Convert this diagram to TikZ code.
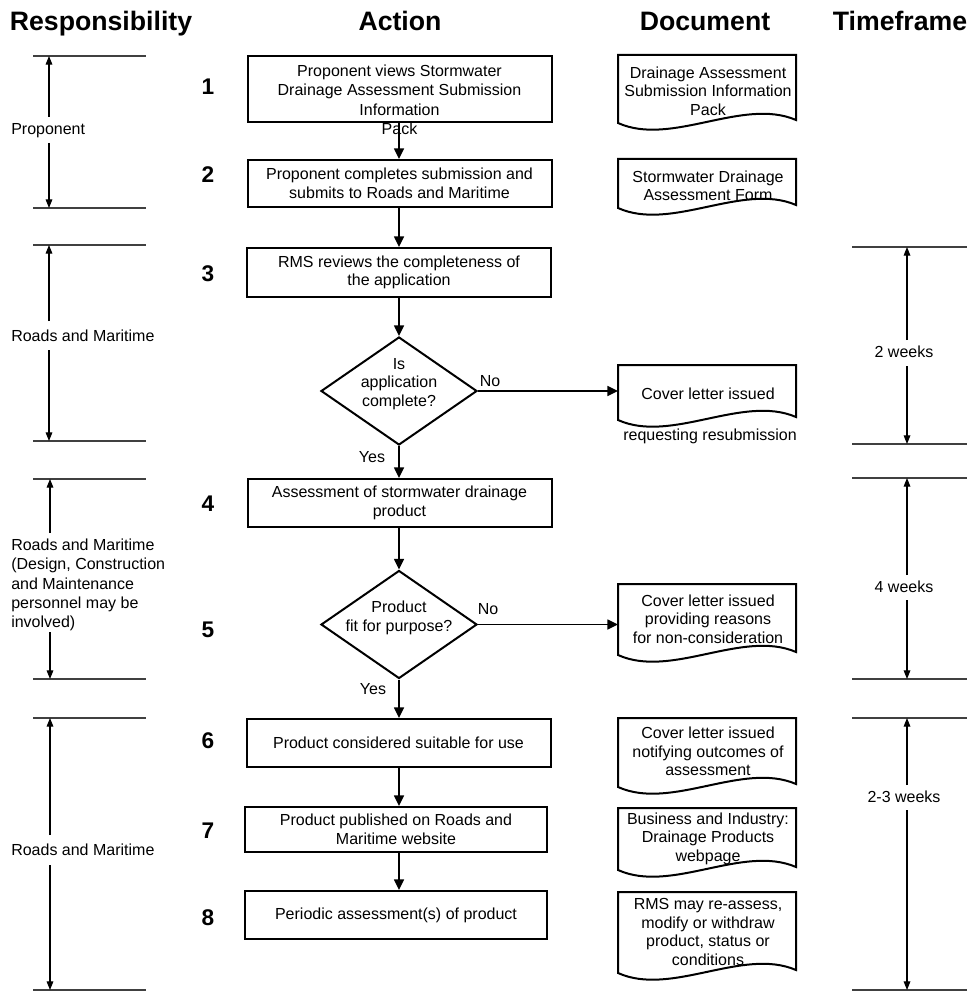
\documentclass[tikz,border=0pt]{standalone}
\usepackage{fontspec}
\setmainfont{Liberation Sans}
\usetikzlibrary{shapes.geometric,arrows.meta}
\newcommand\mkdoc[3]{%
  \draw[docline] (618,#3) -- (618,#2) -- (796,#2) -- (796,{#3-3})
    .. controls (742.6,{#3-26}) and (671.4,{#3+24}) .. (618,#3) -- cycle;
  \coordinate (#1) at (618,{(#2+#3)/2});}
\begin{document}
\begin{tikzpicture}[x=0.75pt,y=-0.75pt,
  txt/.style={font=\fontsize{12}{13.9}\selectfont, align=center, inner sep=0pt},
  ltxt/.style={font=\fontsize{12}{14.5}\selectfont, align=left, inner sep=0pt, anchor=west},
  hdr/.style={font=\fontsize{20}{24}\selectfont\bfseries, inner sep=0pt, anchor=base},
  num/.style={font=\fontsize{17}{20}\selectfont\bfseries, inner sep=0pt},
  box/.style={draw, line width=1.5pt, rectangle, inner sep=0pt, minimum width=228pt},
  dia/.style={draw, line width=1.5pt, diamond, inner sep=0pt, minimum width=117pt, minimum height=81pt},
  docline/.style={draw, line width=1.5pt, line join=miter},
  flow/.style={-{Triangle[length=8pt,width=7.5pt]}, line width=1.1pt},
  bar/.style={line width=0.8pt, draw=black!75},
  dim/.style={-{Triangle[length=6.5pt,width=5pt]}, line width=0.8pt}]
\useasboundingbox (0,0) rectangle (970,991);

% headers
\node[hdr] (h1) at (101,31) {Responsibility};
\node[hdr] (h2) at (400,31) {Action};
\node[hdr] (h3) at (705,31) {Document};
\node[hdr] (h4) at (900,31) {Timeframe};

% step numbers
\node[num] (n1) at (208,87) {1};
\node[num] (n2) at (208,175) {2};
\node[num] (n3) at (208,274) {3};
\node[num] (n4) at (208,504) {4};
\node[num] (n5) at (208,630) {5};
\node[num] (n6) at (208,741) {6};
\node[num] (n7) at (208,831) {7};
\node[num] (n8) at (208,918) {8};

% action boxes
\node[box, minimum height=49.5pt] (b1) at (399.5,89) {};
\node[txt] (b1t) at (399.5,100) {Proponent views Stormwater\\[0.7pt]Drainage Assessment Submission\\[0.7pt]Information\\[0.7pt]Pack};
\node[box, minimum height=35.25pt, txt] (b2) at (399.5,183.5) {Proponent completes submission and\\submits to Roads and Maritime};
\node[box, minimum height=36.75pt, txt] (b3) at (399,272.5) {RMS reviews the completeness of\\the application};
\node[dia] (d1) at (399,391) {};
\node[txt] (d1t) at (399,384) {Is\\application\\complete?};
\node[box, minimum height=36pt, txt] (b4) at (399.5,503) {Assessment of stormwater drainage\\product};
\node[dia] (d2) at (399,624.5) {};
\node[txt] (d2t) at (399,618) {Product\\fit for purpose?};
\node[box, minimum height=36pt, txt] (b6) at (398.5,743) {Product considered suitable for use};
\node[box, minimum height=33.75pt, minimum width=226.5pt, txt] (b7) at (396,829.5) {Product published on Roads and\\Maritime website};
\node[box, minimum height=36pt, minimum width=226.5pt, txt] (b8) at (396,915) {Periodic assessment(s) of product};

% documents
\mkdoc{doc1}{55}{123}
\node[txt] (doc1t) at (708,91) {Drainage Assessment\\Submission Information\\Pack};
\mkdoc{doc2}{159}{208}
\node[txt] (doc2t) at (708,186) {Stormwater Drainage\\Assessment Form};
\mkdoc{cov1}{365}{420}
\node[txt] (cov1t) at (708,394) {Cover letter issued};
\node[txt] (cov1u) at (710,436) {requesting resubmission};
\mkdoc{cov2}{584}{655}
\node[txt] (cov2t) at (708,619) {Cover letter issued\\providing reasons\\for non-consideration};
\mkdoc{doc6}{718}{787}
\node[txt] (doc6t) at (708,751.5) {Cover letter issued\\notifying outcomes of\\assessment};
\mkdoc{doc7}{808}{870}
\node[txt] (doc7t) at (708,838.5) {Business and Industry:\\Drainage Products\\webpage};
\mkdoc{doc8}{892}{973}
\node[txt] (doc8t) at (708,932) {RMS may re-assess,\\modify or withdraw\\product, status or\\conditions};

% flow connectors
\draw[flow] (b1.south -| d1) -- (b2.north -| d1);
\draw[flow] (b2.south -| d1) -- (b3.north -| d1);
\draw[flow] (b3.south -| d1) -- (d1.north);
\draw[flow] (d1.south) -- (b4.north -| d1);
\draw[flow] (b4.south -| d1) -- (d2.north);
\draw[flow] (d2.south) -- (b6.north -| d1);
\draw[flow] (b6.south -| d1) -- (b7.north -| d1);
\draw[flow] (b7.south -| d1) -- (b8.north -| d1);
\draw[flow] (d1.east) -- (d1.east -| cov1);
\draw[flow] (d2.east) -- (d2.east -| cov2);
\node[txt] (no1) at (490,381) {No};
\node[txt] (yes1) at (372,457) {Yes};
\node[txt] (no2) at (488,609) {No};
\node[txt] (yes2) at (373,689) {Yes};

% responsibility bars
\foreach \y in {56,208,245,441,479,679,718,990}{\draw[bar] (33,\y) -- (146,\y);}
\node[ltxt] (r1) at (11,131) {Proponent};
\coordinate (r1a) at (49,117); \coordinate (r1b) at (49,143);
\coordinate (r1t) at (49,56); \coordinate (r1d) at (49,208);
\draw[dim] (r1a) -- (r1t); \draw[dim] (r1b) -- (r1d);
\node[ltxt] (r2) at (11,336) {Roads and Maritime};
\coordinate (r2a) at (49,321); \coordinate (r2b) at (49,350);
\coordinate (r2t) at (49,245); \coordinate (r2d) at (49,441);
\draw[dim] (r2a) -- (r2t); \draw[dim] (r2b) -- (r2d);
\node[ltxt] (r3) at (11,585) {Roads and Maritime\\(Design, Construction\\and Maintenance\\personnel may be\\involved)};
\coordinate (r3a) at (50,533); \coordinate (r3b) at (50,632);
\coordinate (r3t) at (50,479); \coordinate (r3d) at (50,679);
\draw[dim] (r3a) -- (r3t); \draw[dim] (r3b) -- (r3d);
\node[ltxt] (r4) at (11,850) {Roads and Maritime};
\coordinate (r4a) at (50,835); \coordinate (r4b) at (50,865);
\coordinate (r4t) at (50,718); \coordinate (r4d) at (50,990);
\draw[dim] (r4a) -- (r4t); \draw[dim] (r4b) -- (r4d);

% timeframe bars
\foreach \y in {247,444,478,679,718,990}{\draw[bar] (852,\y) -- (967,\y);}
\node[txt] (w1) at (904,352) {2 weeks};
\coordinate (w1a) at (907,340); \coordinate (w1b) at (907,366);
\coordinate (w1t) at (907,247); \coordinate (w1d) at (907,444);
\draw[dim] (w1a) -- (w1t); \draw[dim] (w1b) -- (w1d);
\node[txt] (w2) at (904,587) {4 weeks};
\coordinate (w2a) at (907,575); \coordinate (w2b) at (907,600);
\coordinate (w2t) at (907,478); \coordinate (w2d) at (907,679);
\draw[dim] (w2a) -- (w2t); \draw[dim] (w2b) -- (w2d);
\node[txt] (w3) at (904,797) {2-3 weeks};
\coordinate (w3a) at (907,785); \coordinate (w3b) at (907,810);
\coordinate (w3t) at (907,718); \coordinate (w3d) at (907,990);
\draw[dim] (w3a) -- (w3t); \draw[dim] (w3b) -- (w3d);
\end{tikzpicture}
\end{document}
